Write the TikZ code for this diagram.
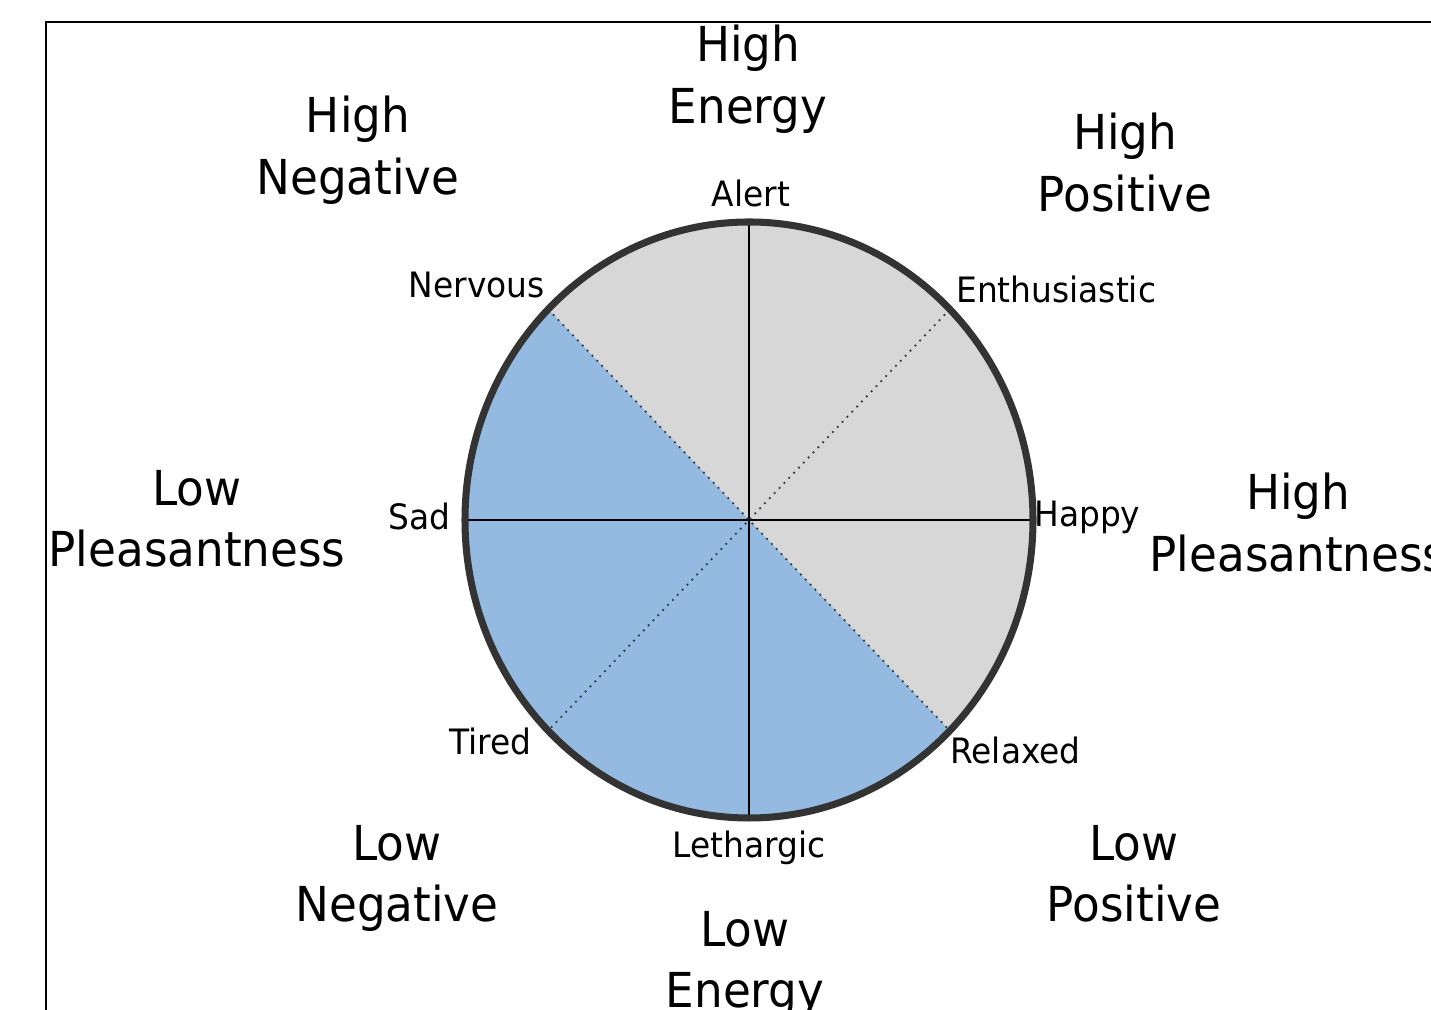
\documentclass[tikz,border=0pt]{standalone}
\usepackage{fontspec}
\setmainfont{DejaVu Sans}[FakeStretch=0.94]
\usepackage{xcolor}
\definecolor{moodblue}{RGB}{148,186,226}
\definecolor{moodgray}{RGB}{215,215,215}
\definecolor{rimgray}{RGB}{51,51,51}

\begin{document}
\begin{tikzpicture}[x=0.02cm, y=0.02cm,
    bigtext/.style={font=\fontsize{27.4}{35}\selectfont, align=center, inner sep=0pt, anchor=north},
    smalltext/.style={font=\fontsize{19.9}{22}\selectfont, inner sep=0pt}]
  \useasboundingbox (0,0) rectangle (1431,1010);
  \clip (0,0) rectangle (1431,1010);
  \draw[line width=1pt] (46,-20) |- (1460,988);

  \coordinate (c) at (749,490);
  \coordinate (top) at (749,788);
  \coordinate (bot) at (749,192);
  \coordinate (lft) at (465,490);
  \coordinate (rgt) at (1033,490);
  \coordinate (nw) at ({749+284*cos(135)},{490+298*sin(135)});
  \coordinate (ne) at ({749+284*cos(45)},{490+298*sin(45)});
  \coordinate (sw) at ({749+284*cos(225)},{490+298*sin(225)});
  \coordinate (se) at ({749+284*cos(315)},{490+298*sin(315)});

  \fill[moodgray] (c) ellipse [x radius=284, y radius=298];
  \fill[moodblue] (c) -- (nw) arc [start angle=135, end angle=315, x radius=284, y radius=298] -- cycle;
  \draw[line width=1pt] (top) -- (bot);
  \draw[line width=1pt] (lft) -- (rgt);
  \draw[line width=1pt, black!80, dash pattern=on 1pt off 3pt] (nw) -- (se);
  \draw[line width=1pt, black!80, dash pattern=on 1pt off 3pt] (ne) -- (sw);
  \draw[rimgray, line width=4pt] (c) ellipse [x radius=284, y radius=298];

  \node[smalltext, anchor=base] (alert) at (751,803) {Alert};
  \node[smalltext, anchor=base east] (nervous) at (545,712) {Nervous};
  \node[smalltext, anchor=base west] (enthus) at (956,707) {Enthusiastic};
  \node[smalltext, anchor=base east] (sad) at (451,480) {Sad};
  \node[smalltext, anchor=base west] (happy) at (1034,483) {Happy};
  \node[smalltext, anchor=base west] (relaxed) at (950,246) {Relaxed};
  \node[smalltext, anchor=base east] (tired) at (532,255) {Tired};
  \node[smalltext, anchor=base] (lethargic) at (749,152) {Lethargic};

  \node[bigtext] (hiEnergy) at (748,985) {High\\Energy};
  \node[bigtext] (hiNeg) at (358,914) {High\\Negative};
  \node[bigtext] (hiPos) at (1125,897) {High\\Positive};
  \node[bigtext] (loPleas) at (197,540) {Low\\Pleasantness};
  \node[bigtext] (hiPleas) at (1298,537) {High\\Pleasantness};
  \node[bigtext] (loNeg) at (397,185) {Low\\Negative};
  \node[bigtext] (loPos) at (1134,185) {Low\\Positive};
  \node[bigtext] (loEnergy) at (745,99) {Low\\Energy};
\end{tikzpicture}
\end{document}
